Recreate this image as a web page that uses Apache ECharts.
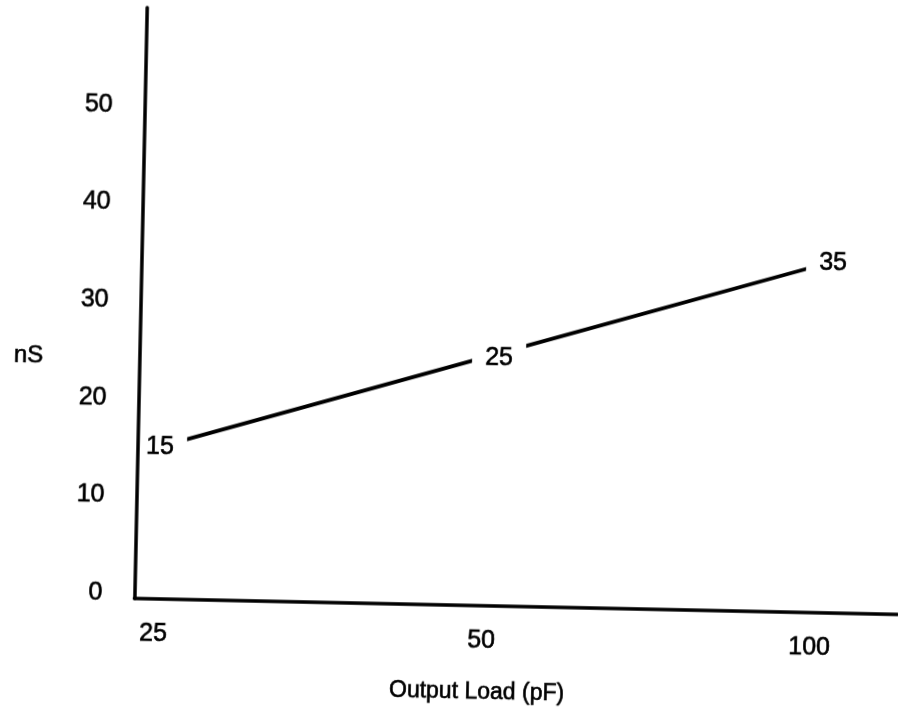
<!DOCTYPE html>
<html>
<head>
<meta charset="utf-8">
<script src="https://cdn.jsdelivr.net/npm/echarts@6/dist/echarts.min.js"></script>
<style>
  html, body { margin: 0; padding: 0; background: #fff; overflow: hidden; width: 898px; height: 713px; }
  #chart { position: absolute; left: -20px; top: -20px; width: 938px; height: 753px; transform: rotate(1.2deg); transform-origin: 50% 50%; }
</style>
</head>
<body>
<div id="chart"></div>
<script>
// ---- data ----
const loads = ['25', '50', '100'];          // Output Load (pF) categories
const delays = [15, 25, 35];                // nS values
const yTickValues = [0, 10, 20, 30, 40, 50];
const xTickIndex = [0, 1, 2];

// ---- styles ----
const FONT = 'Liberation Sans, Arial, Helvetica, sans-serif';
const pointLabelOffsets = [[3, 0], [12, 1], [16, -3]];
const INK = { color: '#000', textBorderColor: '#000', textBorderWidth: 0.6 };

const chart = echarts.init(document.getElementById('chart'), null, { renderer: 'canvas' });

const option = {
  backgroundColor: '#fff',
  animation: false,
  title: [
    { text: 'nS', left: 29, top: 367, padding: 5,
      textStyle: Object.assign({ fontFamily: FONT, fontSize: 24, fontWeight: 'normal' }, INK) },
    { text: 'Output Load (pF)', left: 411, top: 695, padding: 5,
      textStyle: Object.assign({ fontFamily: FONT, fontSize: 23, fontWeight: 'normal' }, INK) }
  ],
  grid: { left: 159.5, right: 15, top: 34, bottom: 128, containLabel: false },
  xAxis: {
    type: 'value',
    min: -0.0595,
    max: 2.268,
    z: 10,
    axisLine: { show: true, onZero: false, lineStyle: { color: '#000', width: 3.5 } },
    axisTick: { show: false },
    splitLine: { show: false },
    axisLabel: Object.assign({
      customValues: xTickIndex,
      formatter: v => loads[Math.round(v)],
      margin: 23,
      fontFamily: FONT, fontSize: 25
    }, INK)
  },
  yAxis: {
    type: 'value',
    min: -0.5,
    max: 60,
    z: 10,
    axisLine: { show: true, onZero: false, lineStyle: { color: '#000', width: 3.5 } },
    axisTick: { show: false },
    splitLine: { show: false },
    axisLabel: Object.assign({
      customValues: yTickValues,
      margin: 32,
      fontFamily: FONT, fontSize: 25
    }, INK)
  },
  series: [{
    type: 'line',
    data: delays.map((v, i) => ({ value: [xTickIndex[i], v], label: { offset: pointLabelOffsets[i] } })),
    symbol: 'circle',
    symbolSize: 1,
    showSymbol: true,
    itemStyle: { color: '#000' },
    lineStyle: { color: '#000', width: 3.8 },
    label: Object.assign({
      show: true,
      position: 'inside',
      formatter: p => String(p.value[1]),
      backgroundColor: '#fff',
      padding: [3, 13],
      fontFamily: FONT, fontSize: 25
    }, INK),
    z: 2
  }]
};

chart.setOption(option);
</script>
</body>
</html>
